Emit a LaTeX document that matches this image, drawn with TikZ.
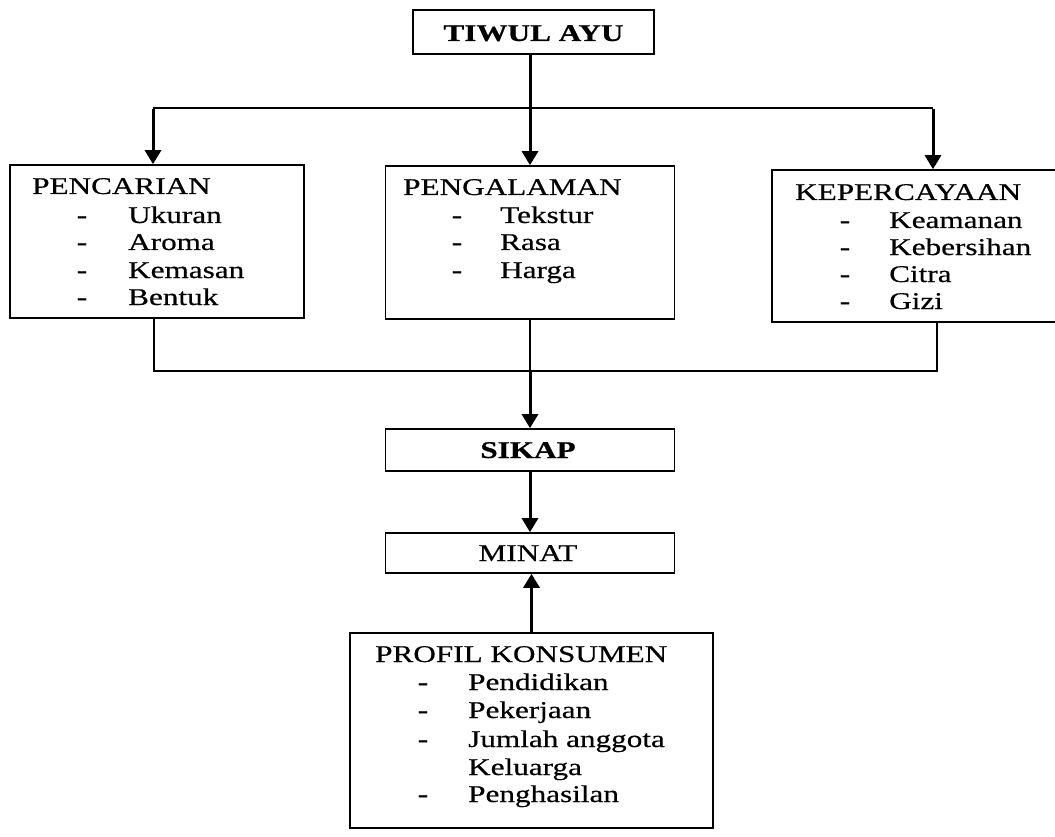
\documentclass[tikz,border=0pt]{standalone}
\usepackage{fontspec}
\setmainfont{Liberation Serif}[FakeStretch=1.3,FakeBold=0.5]
\usetikzlibrary{arrows.meta}
\begin{document}
\begin{tikzpicture}[x=1pt,y=-1pt,
  box/.style={draw, line width=1.6pt, rectangle, inner sep=0pt},
  txt/.style={inner sep=0pt, anchor=base west, font=\fontsize{24}{28}\selectfont},
  dsh/.style={inner sep=0pt, anchor=base, font=\fontsize{24}{28}\selectfont},
  ctr/.style={inner sep=0pt, anchor=base, font=\fontsize{24}{28}\selectfont},
  thinline/.style={line width=1.5pt},
  arr/.style={line width=3pt, -{Triangle[length=14pt,width=16pt]}},
]
\useasboundingbox (0,0) rectangle (1055,837);
\clip (0,0) rectangle (1055,837);

% boxes
\node[box, minimum width=241pt, minimum height=44pt] (tiwul) at (533.5,32) {};
\node[box, minimum width=294pt, minimum height=153pt] (pencarian) at (157,241.5) {};
\node[box, minimum width=289pt, minimum height=153pt] (pengalaman) at (530,242.5) {};
\node[box, minimum width=298pt, minimum height=152pt] (kepercayaan) at (921,246) {};
\node[box, minimum width=289pt, minimum height=42pt] (sikap) at (530,450) {};
\node[box, minimum width=289pt, minimum height=40pt] (minat) at (530,553) {};
\node[box, minimum width=363pt, minimum height=195pt] (profil) at (531.5,730.5) {};

% texts
\node[ctr, font=\fontsize{24}{28}\selectfont\bfseries] (t-tiwul) at (533.5,41) {TIWUL AYU};

\node[txt] (t-pen) at (32,194) {PENCARIAN};
\node[dsh] (d-pen1) at (82,223) {-};
\node[txt] (i-pen1) at (128,223) {Ukuran};
\node[dsh] (d-pen2) at (82,250) {-};
\node[txt] (i-pen2) at (128,250) {Aroma};
\node[dsh] (d-pen3) at (82,278) {-};
\node[txt] (i-pen3) at (128,278) {Kemasan};
\node[dsh] (d-pen4) at (82,305) {-};
\node[txt] (i-pen4) at (128,305) {Bentuk};

\node[txt] (t-pgl) at (403,195) {PENGALAMAN};
\node[dsh] (d-pgl1) at (457,223) {-};
\node[txt] (i-pgl1) at (500,223) {Tekstur};
\node[dsh] (d-pgl2) at (457,250) {-};
\node[txt] (i-pgl2) at (500,250) {Rasa};
\node[dsh] (d-pgl3) at (457,278) {-};
\node[txt] (i-pgl3) at (500,278) {Harga};

\node[txt] (t-kep) at (795,200) {KEPERCAYAAN};
\node[dsh] (d-kep1) at (845,228) {-};
\node[txt] (i-kep1) at (889,228) {Keamanan};
\node[dsh] (d-kep2) at (845,255) {-};
\node[txt] (i-kep2) at (889,255) {Kebersihan};
\node[dsh] (d-kep3) at (845,282) {-};
\node[txt] (i-kep3) at (889,282) {Citra};
\node[dsh] (d-kep4) at (845,309) {-};
\node[txt] (i-kep4) at (889,309) {Gizi};

\node[ctr, font=\fontsize{24}{28}\selectfont\bfseries] (t-sikap) at (528,458) {SIKAP};
\node[ctr] (t-minat) at (528,561) {MINAT};

\node[txt] (t-prof) at (375,662) {PROFIL KONSUMEN};
\node[dsh] (d-prof1) at (423,690) {-};
\node[txt] (i-prof1) at (468,690) {Pendidikan};
\node[dsh] (d-prof2) at (423,718) {-};
\node[txt] (i-prof2) at (468,718) {Pekerjaan};
\node[dsh] (d-prof3) at (423,747) {-};
\node[txt] (i-prof3) at (468,747) {Jumlah anggota};
\node[txt] (i-prof4) at (468,775) {Keluarga};
\node[dsh] (d-prof5) at (423,802) {-};
\node[txt] (i-prof5) at (468,802) {Penghasilan};

% connectors
\coordinate (jl) at (153,108);
\coordinate (jr) at (933,108);
\coordinate (bl) at (154,371);
\coordinate (br) at (937,371);

\draw[arr] (tiwul.south -| pengalaman.north) -- (pengalaman.north);
\draw[thinline] (jl) -- (jr);
\draw[arr] ([yshift=-1pt]jl) -- (jl |- pencarian.north);
\draw[arr] ([yshift=-1pt]jr) -- (jr |- kepercayaan.north);

\draw[thinline] (bl |- pencarian.south) -- (bl) -- (br) -- (br |- kepercayaan.south);
\draw[line width=1.8pt] (pengalaman.south) -- (pengalaman.south |- bl);
\draw[arr] (pengalaman.south |- bl) -- (sikap.north);
\draw[arr] (sikap.south) -- (minat.north);
\draw[arr] (profil.north) -- (profil.north |- minat.south);
\end{tikzpicture}
\end{document}
